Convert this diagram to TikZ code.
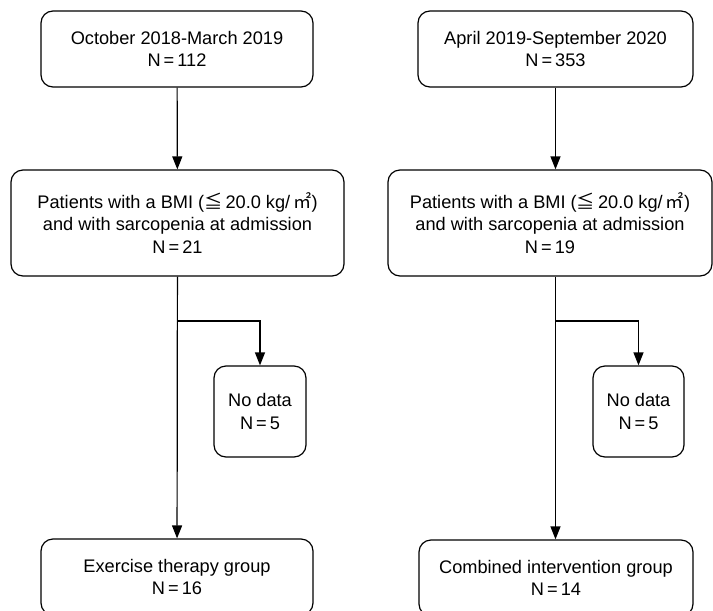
\documentclass[tikz,border=0pt]{standalone}
\usepackage{fontspec}
\setmainfont{Liberation Sans}
\newfontfamily\cjk{Noto Sans CJK JP}
\usetikzlibrary{arrows.meta}
\def\bmitext{Patients with a BMI ({\cjk ≦}\,20.0 kg/\,{\cjk ㎡})\\and with sarcopenia at admission}

\begin{document}
\begin{tikzpicture}[x=1pt, y=-1pt,
		box/.style={draw, rounded corners=12pt, line width=1.2pt, align=center, inner sep=0pt,
			font=\fontsize{18.2}{22.5}\selectfont},
		link/.style={line width=1.2pt, -{Triangle[width=10pt,length=13pt]}}]
			%%%%% START %%%%%
			\useasboundingbox (0, 0) rectangle (713, 611);
			
			% left column
			\node[box, minimum width=272, minimum height=76] (period1) at (177, 49) {October 2018-March 2019\\N\,=\,112};
			\node[box, minimum width=333, minimum height=106] (bmi1) at (177.5, 223) {\bmitext\\N\,=\,21};
			\node[box, minimum width=92, minimum height=91] (nodata1) at (260, 411.5) {No data\\N\,=\,5};
			\node[box, minimum width=272, minimum height=76] (group1) at (177, 577) {Exercise therapy group\\N\,=\,16};
			
			% right column
			\node[box, minimum width=275, minimum height=76] (period2) at (555.5, 49) {April 2019-September 2020\\N\,=\,353};
			\node[box, minimum width=324, minimum height=106] (bmi2) at (550, 223) {\bmitext\\N\,=\,19};
			\node[box, minimum width=91, minimum height=91] (nodata2) at (638.5, 411.5) {No data\\N\,=\,5};
			\node[box, minimum width=274, minimum height=76] (group2) at (556, 578) {Combined intervention group\\N\,=\,14};
			
			\coordinate (split1) at (177, 321);
			\coordinate (split2) at (555.5, 321);
			
			\draw[link] (period1) -- (bmi1);
			\draw[link] (bmi1) -- (group1);
			\draw[link] (split1) -| (nodata1);
			
			\draw[link] (period2.south) -- (period2.south |- bmi2.north);
			\draw[link] (split2 |- bmi2.south) -- (split2 |- group2.north);
			\draw[link] (split2) -| (nodata2);
			
			%%%%% END %%%%%
		\end{tikzpicture}
\end{document}
